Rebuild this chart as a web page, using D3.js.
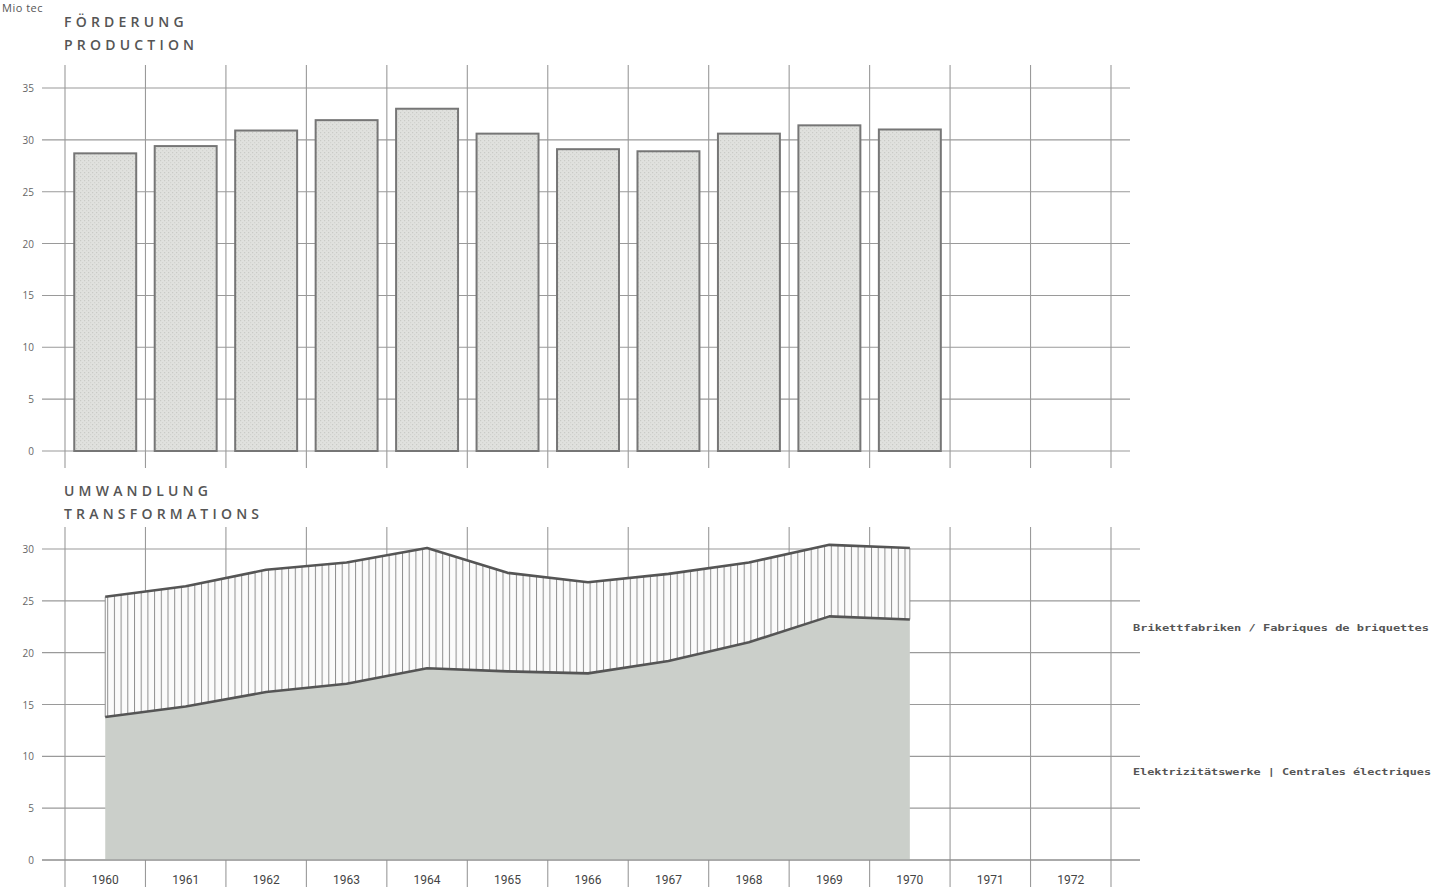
<!DOCTYPE html>
<html>
<head>
<meta charset="utf-8">
<script src="https://cdn.jsdelivr.net/npm/d3@7"></script>
<style>
  html, body { margin: 0; padding: 0; background: #fff; }
  svg { display: block; }
</style>
</head>
<body>
<svg id="chart" width="1433" height="889"></svg>
<script>
// ---- Data ----
const years = [1960, 1961, 1962, 1963, 1964, 1965, 1966, 1967, 1968, 1969, 1970, 1971, 1972];
const productionYears = [1960, 1961, 1962, 1963, 1964, 1965, 1966, 1967, 1968, 1969, 1970];
const production = [28.7, 29.4, 30.9, 31.9, 33.0, 30.6, 29.1, 28.9, 30.6, 31.4, 31.0];
const elektrizitaetswerke = [13.8, 14.8, 16.2, 17.0, 18.5, 18.2, 18.0, 19.2, 21.0, 23.5, 23.2];
const brikettfabriken = [11.6, 11.6, 11.8, 11.7, 11.6, 9.5, 8.8, 8.4, 7.7, 6.9, 6.9];
const yTicksTop = [0, 5, 10, 15, 20, 25, 30, 35];
const yTicksBottom = [0, 5, 10, 15, 20, 25, 30];
const seriesLabels = ["Elektrizitätswerke | Centrales électriques", "Brikettfabriken / Fabriques de briquettes"];

// ---- Setup ----
const svg = d3.select("#chart");
const defs = svg.append("defs");
const gridColor = "#9a9a9a";
const textColor = "#555";

// stipple pattern for bars
const pat = defs.append("pattern").attr("id", "stipple").attr("patternUnits", "userSpaceOnUse")
  .attr("width", 4).attr("height", 4);
pat.append("rect").attr("width", 4).attr("height", 4).attr("fill", "#e0e1de");
pat.append("rect").attr("x", 0).attr("y", 0).attr("width", 1.2).attr("height", 1.2).attr("fill", "#c9cac6");
pat.append("rect").attr("x", 2).attr("y", 2).attr("width", 1.2).attr("height", 1.2).attr("fill", "#d2d3cf");

// vertical hatch for briquettes
const hatch = defs.append("pattern").attr("id", "hatch").attr("patternUnits", "userSpaceOnUse")
  .attr("width", 6.7).attr("height", 10);
hatch.append("rect").attr("width", 6.7).attr("height", 10).attr("fill", "#fbfbfb");
hatch.append("line").attr("x1", 0.5).attr("x2", 0.5).attr("y1", 0).attr("y2", 10)
  .attr("stroke", "#8f8f8f").attr("stroke-width", 1);

const x = d3.scaleBand().domain(years).range([65, 1111]).paddingInner(0.23).paddingOuter(0.115);
const step = x.step();
const center = d => x(d) + x.bandwidth() / 2;
const boundaries = years.map(y => center(y) - step / 2).concat([center(1972) + step / 2]);

const yTop = d3.scaleLinear().domain([0, 35]).range([451, 88]);
const yBot = d3.scaleLinear().domain([0, 30]).range([860, 549]);

// ---- Units label ----
svg.append("text").attr("x", 2).attr("y", 12).attr("font-family", "Open Sans, DejaVu Sans, sans-serif")
  .attr("font-size", 11).attr("letter-spacing", 0.5).attr("fill", textColor).text("Mio tec");

// ---- Titles ----
function title(lines, y0) {
  lines.forEach((t, i) => {
    svg.append("text").attr("x", 64).attr("y", y0 + i * 23)
      .attr("font-family", "Open Sans, DejaVu Sans, sans-serif").attr("font-size", 14)
      .attr("font-weight", 600).attr("letter-spacing", 4.2).attr("fill", textColor).text(t);
  });
}
title(["FÖRDERUNG", "PRODUCTION"], 27);
title(["UMWANDLUNG", "TRANSFORMATIONS"], 496);

// ---- Top chart grid ----
const gTop = svg.append("g");
gTop.selectAll("line.h").data(yTicksTop).enter().append("line")
  .attr("x1", 42).attr("x2", 1130).attr("y1", d => yTop(d)).attr("y2", d => yTop(d))
  .attr("stroke", gridColor).attr("stroke-width", 1.1);
gTop.selectAll("line.v").data(boundaries).enter().append("line")
  .attr("x1", d => d).attr("x2", d => d).attr("y1", 65).attr("y2", 468)
  .attr("stroke", gridColor).attr("stroke-width", 1.1);
gTop.selectAll("text.yl").data(yTicksTop).enter().append("text")
  .attr("x", 34).attr("y", d => yTop(d) + 4).attr("text-anchor", "end")
  .attr("font-family", "Open Sans, DejaVu Sans, sans-serif").attr("font-size", 10)
  .attr("fill", "#666").text(d => d);

// bars
gTop.selectAll("rect.bar").data(productionYears).enter().append("rect")
  .attr("x", d => x(d)).attr("width", x.bandwidth())
  .attr("y", (d, i) => yTop(production[i])).attr("height", (d, i) => yTop(0) - yTop(production[i]))
  .attr("fill", "url(#stipple)").attr("stroke", "#767676").attr("stroke-width", 2);

// ---- Bottom chart grid ----
const gBot = svg.append("g");
gBot.selectAll("line.h").data(yTicksBottom).enter().append("line")
  .attr("x1", 42).attr("x2", 1140).attr("y1", d => yBot(d)).attr("y2", d => yBot(d))
  .attr("stroke", gridColor).attr("stroke-width", 1.1);
gBot.selectAll("line.v").data(boundaries).enter().append("line")
  .attr("x1", d => d).attr("x2", d => d).attr("y1", 527).attr("y2", 887)
  .attr("stroke", gridColor).attr("stroke-width", 1.1);
gBot.selectAll("text.yl").data(yTicksBottom).enter().append("text")
  .attr("x", 34).attr("y", d => yBot(d) + 4).attr("text-anchor", "end")
  .attr("font-family", "Open Sans, DejaVu Sans, sans-serif").attr("font-size", 10)
  .attr("fill", "#666").text(d => d);

// stacked areas
const table = productionYears.map((yr, i) => ({ year: yr, elek: elektrizitaetswerke[i], brik: brikettfabriken[i] }));
const stack = d3.stack().keys(["elek", "brik"])(table);
const area = d3.area().x(d => center(d.data.year)).y0(d => yBot(d[0])).y1(d => yBot(d[1]))
  .curve(d3.curveLinear);
const line = d3.line().x(d => center(d.data.year)).y(d => yBot(d[1])).curve(d3.curveLinear);

gBot.append("path").datum(stack[0]).attr("d", area).attr("fill", "#cbcfca");
gBot.append("path").datum(stack[1]).attr("d", area).attr("fill", "url(#hatch)");
// side edges of hatch
[stack[1][0], stack[1][stack[1].length - 1]].forEach(d => {
  gBot.append("line").attr("x1", center(d.data.year)).attr("x2", center(d.data.year))
    .attr("y1", yBot(d[0])).attr("y2", yBot(d[1])).attr("stroke", "#8f8f8f").attr("stroke-width", 1);
});
gBot.append("path").datum(stack[0]).attr("d", line).attr("fill", "none")
  .attr("stroke", "#555").attr("stroke-width", 2.6).attr("stroke-linejoin", "round");
gBot.append("path").datum(stack[1]).attr("d", line).attr("fill", "none")
  .attr("stroke", "#555").attr("stroke-width", 2.6).attr("stroke-linejoin", "round");
// redraw baseline over area
gBot.append("line").attr("x1", 42).attr("x2", 1140).attr("y1", yBot(0)).attr("y2", yBot(0))
  .attr("stroke", "#888").attr("stroke-width", 1.2);

// year labels
gBot.selectAll("text.yr").data(years).enter().append("text")
  .attr("x", d => center(d)).attr("y", 884).attr("text-anchor", "middle")
  .attr("font-family", "Liberation Sans Narrow, Roboto, sans-serif").attr("font-size", 12)
  .attr("fill", "#444").text(d => d);

// series labels on right
svg.append("text").attr("x", 1133).attr("y", 631).attr("textLength", 296).attr("lengthAdjust", "spacingAndGlyphs")
  .attr("font-family", "DejaVu Sans Mono, monospace").attr("font-size", 9).attr("font-weight", "bold")
  .attr("fill", textColor).text(seriesLabels[1]);
svg.append("text").attr("x", 1133).attr("y", 775).attr("textLength", 298).attr("lengthAdjust", "spacingAndGlyphs")
  .attr("font-family", "DejaVu Sans Mono, monospace").attr("font-size", 9).attr("font-weight", "bold")
  .attr("fill", textColor).text(seriesLabels[0]);
</script>
</body>
</html>
